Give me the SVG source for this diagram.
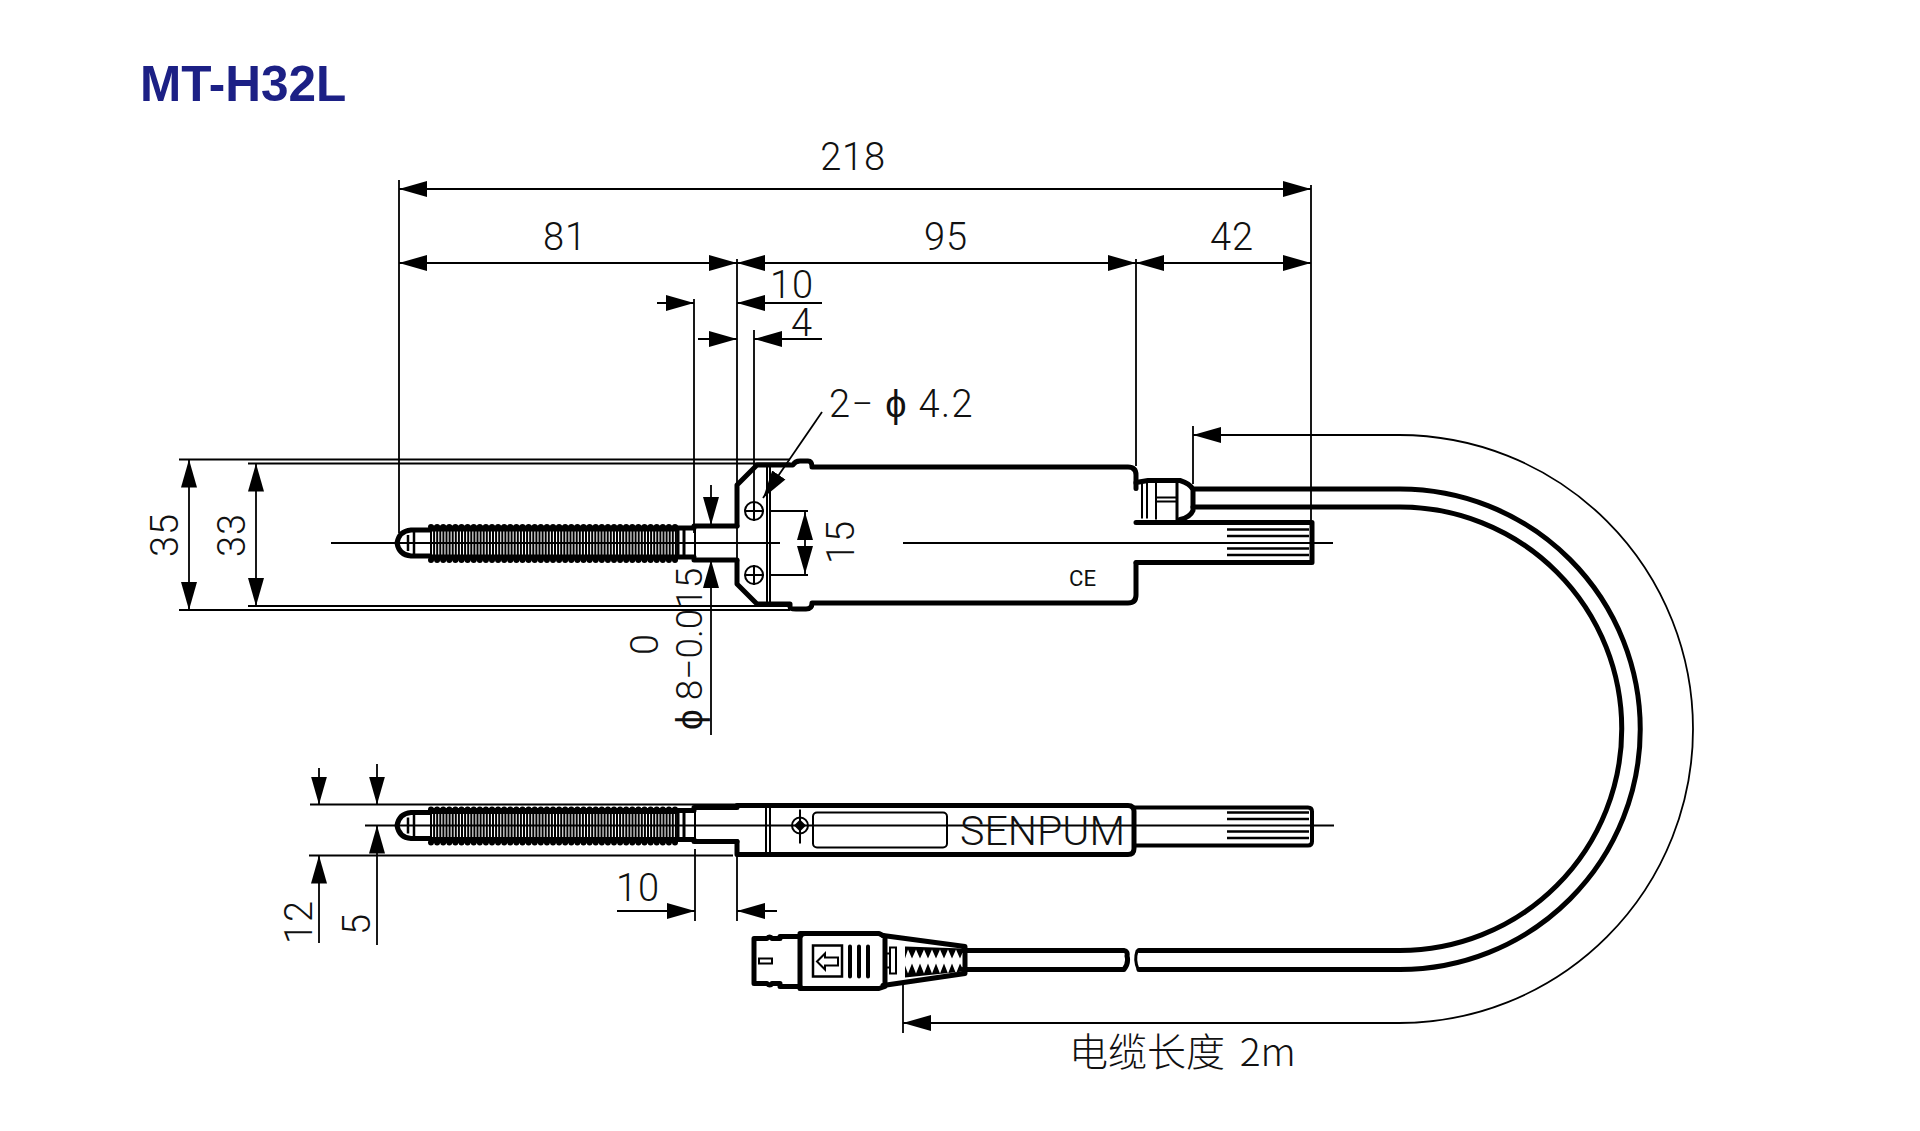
<svg xmlns="http://www.w3.org/2000/svg" xmlns:xlink="http://www.w3.org/1999/xlink" width="1920" height="1131" viewBox="0 0 1920 1131">
<style>
text{font-family:"Roboto","Liberation Sans","DejaVu Sans",sans-serif;font-weight:300;fill:#111;font-size:38px;letter-spacing:.8px}
.m{text-anchor:middle}
.t{fill:none;stroke:#000;stroke-width:5;stroke-linejoin:round;stroke-linecap:round}
.o{fill:none;stroke:#000;stroke-width:3;stroke-linecap:round}
.d{fill:none;stroke:#000;stroke-width:1.8}
.a{marker-end:url(#ah)}
.b{marker-start:url(#as);marker-end:url(#ah)}
.c{fill:none;stroke:#000;stroke-width:2}
</style>
<defs>
<marker id="ah" markerUnits="userSpaceOnUse" markerWidth="29" markerHeight="18" refX="28" refY="9" orient="auto"><path d="M0 1L28 9L0 17Z"/></marker>
<marker id="as" markerUnits="userSpaceOnUse" markerWidth="29" markerHeight="18" refX="1" refY="9" orient="auto"><path d="M29 1L1 9L29 17Z"/></marker>
<g id="probe">
<path d="M430 529H411Q399 530 397 542Q399 554 411 555H430" class="t"/>
<path d="M408 534V550M414 531V553" class="c" style="stroke-width:2.500"/>
<path d="M430 527.500H678M430 556.500H678" fill="none" stroke="#000" stroke-width="6"/>
<path d="M431 526H678M431 559H678" fill="none" stroke="#000" stroke-width="6" stroke-linecap="round" stroke-dasharray="0 6.100"/>
<path d="M430 535.500H678M430 548.500H678" fill="none" stroke="#000" stroke-width="12" stroke-dasharray="2 1.100"/>
<path d="M678 527H694M678 556H694" class="t"/>
<path d="M678 528V556M684 527V557" class="c" style="stroke-width:3"/>
</g>
<g id="knurl"><path d="M1227 0H1309M1227 6.500H1309M1227 19H1309M1227 25.500H1309" fill="none" stroke="#000" stroke-width="2.500"/></g>
<circle id="h" r="9" fill="none" stroke="#000" stroke-width="2"/>
</defs>
<rect width="1920" height="1131" fill="#fff"/>
<text id="title" x="140" y="101" style="font-family:'Liberation Sans',sans-serif;font-weight:700;font-size:49.500px;fill:#1c2085;letter-spacing:0">MT-H32L</text>

<g id="connectors">
<path class="d" d="M399 180V533M1311 185V522M737 259V484M737 525V560M1136 259V466M694 299V533M754 330V502M695 849V921M737 846V921M1193 426V484M903 985V1033"/>
<path class="d" d="M179 459.500H790M248 463.500H790M248 606H790M179 610H790M310 804.500H737M309 855.500H733"/>
<path class="d" d="M331 543H780M903 543H1333M365 825.500H1334"/>
<path class="d" d="M770 511H808M770 575H808"/>
<path class="d b" d="M399 189H1311"/>
<path class="d b" d="M399 263H737"/>
<path class="d b" d="M737 263H1136"/>
<path class="d b" d="M1136 263H1311"/>
<path class="d a" d="M657 303H694"/><path class="d a" d="M822 303H737"/>
<path class="d a" d="M698 339H737"/><path class="d a" d="M822 339H754"/>
<path class="d a" d="M822 412L763 498"/>
<path class="d b" d="M189 459.500V610"/>
<path class="d b" d="M256 463.500V606"/>
<path class="d b" d="M805 512V574"/>
<path class="d a" d="M711 485V525"/><path class="d a" d="M711 735V560"/>
<path class="d a" d="M319 768V804.500"/><path class="d a" d="M319 943V855.500"/>
<path class="d a" d="M377 764V804.500"/><path class="d a" d="M377 945V825.500"/>
<path class="d a" d="M617 911H695"/><path class="d a" d="M777 911H737"/>
<path class="d a" d="M1399 435H1193"/>
<path class="d a" d="M1399 1023H903"/>
<path class="d" d="M1399 435A294 294 0 0 1 1399 1023"/>
</g>

<g id="probe-side" transform="translate(0 1)">
<use xlink:href="#probe" href="#probe"/>
<path class="t" d="M694 525H737M694 559H737"/>
<path class="c" d="M695 527V557"/>
<path class="t" d="M737 525V484L757 464H793Q795 460 800 460H808Q812 460 812 466H1128Q1136 466 1136 474V482M737 560V583L757 603H790V606Q790 608 796 608H806Q812 608 812 602H1128Q1136 602 1136 594V562"/>
<path class="o" d="M767 465V602M770 465V602" style="stroke-width:2"/>
<use xlink:href="#h" href="#h" x="754" y="510"/><use xlink:href="#h" href="#h" x="754" y="574"/>
<path class="c" d="M745 510H764M754 500V520M745 574H764M754 564V584"/>
</g>
<g id="fitting" transform="translate(0 .5)">
<path class="t" d="M1136 482V488M1136 482L1148 480H1180Q1190 483 1193 489V510Q1190 517 1180 519"/>
<path class="t" d="M1136 522H1312V562H1136"/>
<path class="c" d="M1142 482V518M1147 480V518M1156 480V519" />
<path class="o" d="M1177 480V519" />
<path class="c" d="M1156 497H1177M1156 501H1177"/>
<use xlink:href="#knurl" href="#knurl" y="529"/>
<text x="1069" y="585" textLength="27" lengthAdjust="spacingAndGlyphs" style="font-size:22px;font-weight:400;letter-spacing:0">CE</text>
</g>
<g id="cable">
<path class="t" d="M1193 489H1400A240 240 0 0 1 1400 969.500H1139"/>
<path class="t" d="M1193 507H1400A221.500 221.500 0 0 1 1400 950.500H1139"/>
<path d="M963 950.500H1124Q1128 951 1127 956Q1129 963 1124 969.500H963" class="t"/>
<path d="M1137 951Q1134 960 1138 969" class="t" style="stroke-width:3"/>
</g>
<g id="probe-top" transform="translate(0 1.500)">
<use xlink:href="#probe" href="#probe" y="282"/>
<path class="t" d="M694 806H737M694 840H737"/>
<path class="c" d="M695 808V838"/>
<path class="t" d="M737 840V853H768M737 804H1128Q1134 804 1134 810V847Q1134 853 1128 853H768"/>
<path class="o" d="M766 804V853M770 804V853" style="stroke-width:2"/>
<path class="t" d="M1134 806H1308Q1312 806 1312 810V840Q1312 844 1308 844H1134" style="stroke-width:4"/>
<use xlink:href="#knurl" href="#knurl" y="811"/>
<circle cx="800" cy="824" r="8" fill="none" stroke="#000" stroke-width="2"/><path d="M800 818L806 824L800 830L794 824Z"/>
<path class="c" d="M800 808V842"/>
<rect x="813" y="811" width="134" height="35" rx="4" fill="none" stroke="#000" stroke-width="2"/>
<text x="960" y="843" textLength="165" lengthAdjust="spacingAndGlyphs" style="font-size:41px;letter-spacing:0">SENPUM</text>
</g>
<g id="plug" transform="translate(0 1.500)">
<path class="t" d="M780 937H772Q770 934 767 937H754V982H767Q770 985 772 982H780"/>
<path class="t" d="M780 935H800M780 985H800"/>
<path class="t" d="M800 932H879L885 935V985L879 987H800Q800 987 800 982V937Q800 932 805 932Z"/>
<path class="t" d="M883 934L965 945V972L883 984"/>
<rect x="759" y="957" width="13" height="5" fill="none" stroke="#000" stroke-width="2"/>
<rect x="813" y="944" width="29" height="31" fill="none" stroke="#000" stroke-width="2.500"/>
<path class="c" d="M817 960L825 952V956H838V964H825V968Z"/>
<path class="t" d="M850 945V975M859 945V975M868 945V975" style="stroke-width:4"/>
<rect x="890" y="946" width="6" height="26" fill="none" stroke="#000" stroke-width="2"/>
<path class="c" d="M885 952H890M885 966H890"/>
<path d="M905 945L963 947V950L960 957L956 948L952 957L948 948L944 957L940 948L936 957L932 948L928 957L924 948L920 957L916 948L912 957L908 948L905 957Z"/>
<path d="M905 976L963 970V968L960 962L956 972L952 962L948 972L944 962L940 972L936 962L932 972L928 962L924 972L920 962L916 972L912 962L908 972L905 964Z"/>
</g>
<g id="labels">
<text class="m" x="853" y="170">218</text>
<text class="m" x="565" y="250">81</text>
<text class="m" x="946" y="250">95</text>
<text class="m" x="1232" y="250">42</text>
<text class="m" x="792" y="298">10</text>
<text class="m" x="802" y="336">4</text>
<text x="829" y="417" style="letter-spacing:1.400px">2− ϕ 4.2</text>
<text class="m" transform="translate(178 535) rotate(-90)">35</text>
<text class="m" transform="translate(245 535) rotate(-90)">33</text>
<text class="m" transform="translate(854 542) rotate(-90)">15</text>
<text transform="translate(702 730) rotate(-90)" style="letter-spacing:0;font-size:37px">ϕ 8−0.015</text>
<text class="m" transform="translate(658 644) rotate(-90)">0</text>
<text class="m" transform="translate(312 922) rotate(-90)">12</text>
<text class="m" transform="translate(370 924) rotate(-90)">5</text>
<text class="m" x="638" y="901">10</text>
<text x="1069" y="1066" style="font-family:'Noto Sans CJK SC',sans-serif;font-weight:300;font-size:39px;letter-spacing:0">电缆长度 <tspan dx="6">2m</tspan></text>
</g>
</svg>
